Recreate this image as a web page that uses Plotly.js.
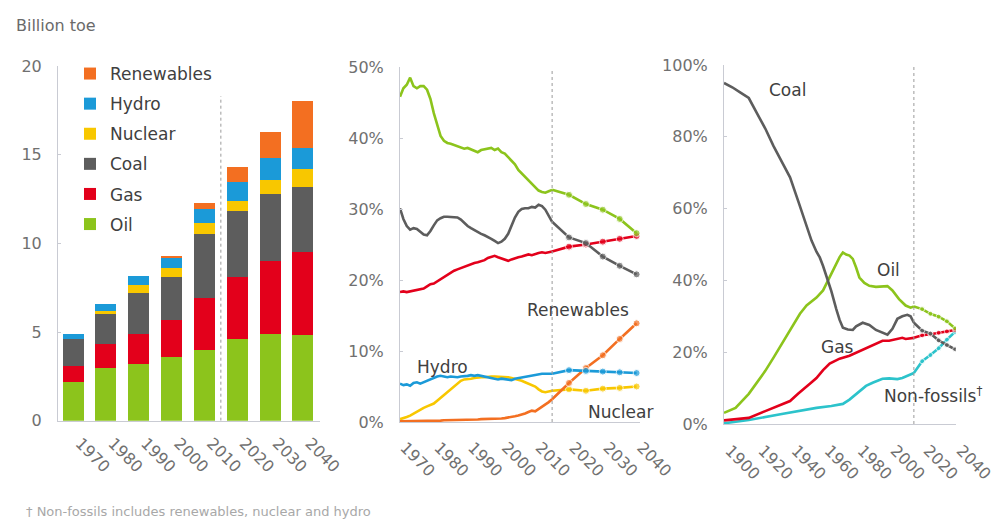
<!DOCTYPE html>
<html>
<head>
<meta charset="utf-8">
<script src="https://cdn.plot.ly/plotly-3.0.1.min.js"></script>
<style>
  html, body { margin: 0; padding: 0; background: #fff; }
  #chart { width: 1001px; height: 524px; }
</style>
</head>
<body>
<div id="chart"></div>
<script>
// ---------- Panel 1: primary energy by fuel (billion toe) ----------
const barYears = [1970, 1980, 1990, 2000, 2010, 2020, 2030, 2040];
const barOil = [2.2, 3.0, 3.2, 3.6, 4.0, 4.6, 4.9, 4.85];
const barGas = [0.9, 1.3, 1.7, 2.1, 2.9, 3.5, 4.1, 4.65];
const barCoal = [1.5, 1.7, 2.3, 2.4, 3.6, 3.7, 3.8, 3.7];
const barNuclear = [0.02, 0.2, 0.45, 0.5, 0.65, 0.6, 0.75, 1.0];
const barHydro = [0.27, 0.4, 0.5, 0.6, 0.8, 1.05, 1.25, 1.2];
const barRenewables = [0.0, 0.0, 0.03, 0.06, 0.3, 0.85, 1.5, 2.6];
const barTickText = ["1970", "1980", "1990", "2000", "2010", "2020", "2030", "2040"];

// ---------- Panel 2: shares of primary energy, 1970-2040 (%) ----------
const histYears2 = [1970,1971,1972,1973,1974,1975,1976,1977,1978,1979,1980,1981,1982,1983,1984,1985,1986,1987,1988,1989,1990,1991,1992,1993,1994,1995,1996,1997,1998,1999,2000,2001,2002,2003,2004,2005,2006,2007,2008,2009,2010,2011,2012,2013,2014,2015];
const oilHist2 = [45.8,47.0,47.5,48.5,47.3,47.0,47.3,47.3,46.8,45.5,43.5,41.8,40.3,39.6,39.3,39.2,39.0,38.8,38.7,38.5,38.6,38.4,38.2,38.0,38.3,38.4,38.5,38.6,38.3,38.5,38.0,37.8,37.3,36.8,36.3,35.5,35.0,34.6,34.0,33.5,33.0,32.6,32.4,32.3,32.5,32.7];
const coalHist2 = [30.1,28.6,27.6,27.1,27.3,27.2,26.8,26.4,26.3,26.9,27.7,28.4,28.7,28.9,28.9,28.9,28.9,28.8,28.5,28.0,27.6,27.3,27.0,26.8,26.5,26.3,26.1,25.8,25.5,25.2,25.4,25.8,26.5,27.8,28.8,29.6,30.0,30.1,30.1,30.3,30.2,30.6,30.4,29.9,29.0,28.2];
const gasHist2 = [18.3,18.4,18.3,18.4,18.5,18.5,18.6,18.8,19.1,19.4,19.5,19.8,20.1,20.4,20.8,21.1,21.3,21.5,21.7,21.9,22.0,22.2,22.4,22.5,22.6,22.8,23.1,23.2,23.4,23.2,23.0,22.8,22.7,22.9,23.1,23.2,23.3,23.4,23.6,23.5,23.7,23.8,23.9,23.8,23.9,24.0];
const nuclearHist2 = [0.4,0.5,0.7,0.9,1.2,1.5,1.8,2.0,2.2,2.4,2.6,3.0,3.4,3.8,4.2,4.7,5.1,5.5,5.8,6.0,6.0,6.1,6.2,6.3,6.3,6.3,6.4,6.4,6.4,6.4,6.3,6.3,6.3,6.2,6.1,6.0,5.8,5.6,5.4,5.2,5.0,4.6,4.3,4.2,4.3,4.4];
const hydroHist2 = [5.4,5.2,5.3,5.1,5.5,5.6,5.4,5.6,5.9,6.0,6.2,6.4,6.5,6.4,6.3,6.4,6.3,6.3,6.4,6.4,6.5,6.6,6.5,6.6,6.5,6.4,6.3,6.2,6.1,6.0,6.1,6.0,5.9,5.9,6.1,6.2,6.3,6.4,6.5,6.6,6.6,6.7,6.8,6.8,6.8,6.8];
const renewHist2 = [0.1,0.1,0.1,0.1,0.1,0.15,0.15,0.15,0.2,0.2,0.2,0.2,0.2,0.25,0.25,0.25,0.25,0.3,0.3,0.3,0.3,0.3,0.35,0.35,0.4,0.4,0.4,0.45,0.45,0.5,0.5,0.55,0.6,0.7,0.8,0.9,1.0,1.2,1.4,1.6,1.5,1.8,2.1,2.5,2.8,3.2];

const projYears = [2015, 2020, 2025, 2030, 2035, 2040];
const oilProj = [32.7, 32.0, 30.7, 29.9, 28.6, 26.6];
const coalProj = [28.2, 26.0, 25.2, 23.3, 22.0, 20.8];
const gasProj = [24.0, 24.7, 25.0, 25.4, 25.8, 26.2];
const nuclearProj = [4.4, 4.6, 4.4, 4.7, 4.8, 5.0];
const hydroProj = [6.8, 7.3, 7.2, 7.1, 7.0, 6.9];
const renewProj = [3.2, 5.5, 7.6, 9.4, 11.7, 13.9];
const nonFossilProj = [14.2, 17.5, 19.2, 21.1, 23.5, 25.7];

// ---------- Panel 3: long-run shares, 1900-2040 (%) ----------
const coalYears3 = [1900,1905,1910,1915,1920,1925,1930,1935,1940,1945,1948,1950,1953,1956,1958,1960,1962,1965,1968,1970,1972,1975,1978,1980,1984,1988,1992,1996,1999,2002,2005,2008,2011,2013,2015];
const coalHist3 = [95,93.8,92.3,90.8,86.5,82.3,77.4,73.0,68.7,62.0,58.0,55.0,51.1,48.0,46.4,44.0,41.3,37.0,32.0,29.0,26.8,26.3,26.2,27.2,28.2,27.6,26.2,25.4,24.9,26.5,29.3,30.0,30.4,30.0,28.2];
const oilYears3 = [1900,1907,1915,1920,1925,1930,1935,1940,1946,1950,1954,1956,1960,1963,1965,1968,1970,1972,1974,1976,1978,1980,1982,1985,1988,1992,1996,1999,2002,2006,2010,2013,2015];
const oilHist3 = [3.1,4.5,8.4,11.5,14.8,18.5,22.3,26.0,30.7,33.0,34.4,35.2,37.2,40.0,42.0,45.0,46.5,47.8,47.2,46.9,46.0,43.6,40.8,39.3,38.5,38.2,38.2,38.4,37.2,34.8,33.0,32.4,32.7];
const gasYears3 = [1900,1915,1925,1930,1935,1940,1945,1950,1952,1956,1960,1964,1968,1970,1976,1980,1986,1990,1996,2000,2004,2008,2010,2015];
const gasHist3 = [1.0,1.7,3.6,4.5,5.3,6.4,8.5,10.6,11.2,12.8,15.0,16.8,17.6,18.2,19.0,19.8,21.2,22.0,23.2,23.2,23.6,24.0,23.7,24.0];
const nfYears3 = [1900,1915,1935,1956,1965,1972,1976,1980,1986,1990,1996,2000,2005,2008,2012,2015];
const nfHist3 = [0.2,1.1,2.8,4.5,5.0,5.6,6.8,8.4,10.6,11.5,12.6,12.7,12.5,12.8,13.6,14.2];

// ---------- Colours ----------
const C = {
  oil: "#8cc41c", gas: "#e3001b", coal: "#5d5d5d", nuclear: "#f8c700",
  hydro: "#1b9ad8", renew: "#f36f21", nonfossil: "#2cc3cb"
};
const FONT = "DejaVu Sans, Arial, sans-serif";
const W = 1001, H = 524;
const px = v => v / W;
const py = v => 1 - v / H;

const traces = [];
// bars: stacked bottom-up; legend ranks put Renewables on top
const barDefs = [
  ["Oil", barOil, C.oil, 6], ["Gas", barGas, C.gas, 5], ["Coal", barCoal, C.coal, 4],
  ["Nuclear", barNuclear, C.nuclear, 3], ["Hydro", barHydro, C.hydro, 2], ["Renewables", barRenewables, C.renew, 1]
];
barDefs.forEach(([name, vals, col, rank]) => {
  traces.push({
    type: "bar", x: barYears, y: vals, name: name, legendgroup: name, legendrank: rank,
    marker: { color: col, line: { width: 0 } }, width: 6.4,
    xaxis: "x", yaxis: "y", hoverinfo: "name+y"
  });
});

function addLine(xa, ya, hx, hy, projY, col, msize) {
  traces.push({
    type: "scatter", mode: "lines", x: hx, y: hy, xaxis: xa, yaxis: ya,
    line: { color: col, width: 2.6 }, showlegend: false, hoverinfo: "x+y"
  });
  traces.push({
    type: "scatter", mode: "lines+markers", x: projYears, y: projY, xaxis: xa, yaxis: ya,
    line: { color: col, width: 2.6 },
    marker: { color: col, size: [0, msize, msize, msize, msize, msize] },
    showlegend: false, hoverinfo: "x+y"
  });
}
// panel 2
addLine("x2", "y2", histYears2, nuclearHist2, nuclearProj, C.nuclear, 7);
addLine("x2", "y2", histYears2, renewHist2, renewProj, C.renew, 7);
addLine("x2", "y2", histYears2, hydroHist2, hydroProj, C.hydro, 7);
addLine("x2", "y2", histYears2, gasHist2, gasProj, C.gas, 7);
addLine("x2", "y2", histYears2, coalHist2, coalProj, C.coal, 7);
addLine("x2", "y2", histYears2, oilHist2, oilProj, C.oil, 7);
// panel 3
addLine("x3", "y3", nfYears3, nfHist3, nonFossilProj, C.nonfossil, 5);
addLine("x3", "y3", gasYears3, gasHist3, gasProj, C.gas, 5);
addLine("x3", "y3", oilYears3, oilHist3, oilProj, C.oil, 5);
addLine("x3", "y3", coalYears3, coalHist3, coalProj, C.coal, 5);

const tickFont = { family: FONT, size: 16, color: "#707070" };
const axisLine = "#c9cbd3";
const baseX = {
  showgrid: false, zeroline: false, showline: true, linecolor: axisLine, linewidth: 1,
  ticks: "", tickangle: 45, tickfont: tickFont, fixedrange: true,
  ticklabelstandoff: 6, ticklabelshift: 7
};
const baseY = {
  showgrid: false, zeroline: false, showline: true, linecolor: axisLine, linewidth: 1,
  ticks: "inside", ticklen: 3, tickcolor: axisLine, tickfont: tickFont,
  ticklabelstandoff: 12, fixedrange: true
};

const labelFont = { family: FONT, size: 17, color: "#404040" };
function lab(text, x, y, xa, ya) {
  return { text: text, x: x, y: y, xref: xa, yref: ya, showarrow: false, font: labelFont, xanchor: "center", yanchor: "middle" };
}

const layout = {
  width: W, height: H,
  margin: { l: 0, r: 0, t: 0, b: 0 },
  paper_bgcolor: "#ffffff", plot_bgcolor: "rgba(0,0,0,0)",
  font: { family: FONT, color: "#404040" },
  barmode: "stack", bargap: 0,
  showlegend: true,
  legend: {
    x: px(70), y: py(56), xanchor: "left", yanchor: "top",
    traceorder: "grouped", tracegroupgap: 5,
    font: { family: FONT, size: 17, color: "#404040" },
    bgcolor: "rgba(0,0,0,0)", itemwidth: 30
  },
  xaxis: Object.assign({}, baseX, {
    domain: [px(58), px(320)], range: [1965.4, 2045.2],
    tickmode: "array", tickvals: barYears, ticktext: barTickText, anchor: "y"
  }),
  yaxis: Object.assign({}, baseY, {
    domain: [py(420.7), py(66)], range: [0, 20], dtick: 5, anchor: "x"
  }),
  xaxis2: Object.assign({}, baseX, {
    domain: [px(400), px(640)], range: [1970, 2041], tickmode: "linear", tick0: 1970, dtick: 10, anchor: "y2",
    ticklabelstandoff: 9, ticklabelshift: 5
  }),
  yaxis2: Object.assign({}, baseY, {
    domain: [py(422), py(67)], range: [0, 50], dtick: 10, ticksuffix: "%", anchor: "x2"
  }),
  xaxis3: Object.assign({}, baseX, {
    domain: [px(724), px(956)], range: [1900, 2040.5], tickmode: "linear", tick0: 1900, dtick: 20, anchor: "y3",
    ticklabelstandoff: 10, ticklabelshift: 6
  }),
  yaxis3: Object.assign({}, baseY, {
    domain: [py(424), py(65)], range: [0, 100], dtick: 20, ticksuffix: "%", anchor: "x3"
  }),
  shapes: [
    { type: "line", xref: "x", yref: "y", x0: 2015, x1: 2015, y0: 0, y1: 18.3, line: { color: "#9a9a9a", width: 1, dash: "dot" } },
    { type: "line", xref: "x2", yref: "y2", x0: 2015, x1: 2015, y0: 0, y1: 49.5, line: { color: "#9a9a9a", width: 1, dash: "dot" } },
    { type: "line", xref: "x3", yref: "y3", x0: 2015, x1: 2015, y0: 0, y1: 100, line: { color: "#9a9a9a", width: 1, dash: "dot" } }
  ],
  annotations: [
    { text: "Billion toe", xref: "paper", yref: "paper", x: px(14), y: py(25), xanchor: "left", yanchor: "middle", showarrow: false, font: { family: FONT, size: 16, color: "#6a6a6a" } },
    lab("Hydro", 1982.5, 7.8, "x2", "y2"),
    lab("Renewables", 2022.8, 15.8, "x2", "y2"),
    lab("Nuclear", 2035.3, 1.4, "x2", "y2"),
    lab("Coal", 1938.2, 93, "x3", "y3"),
    lab("Oil", 1999.4, 43, "x3", "y3"),
    lab("Gas", 1968.5, 21.5, "x3", "y3"),
    lab("Non-fossils<sup>†</sup>", 2026.7, 8.1, "x3", "y3"),
    { text: "† Non-fossils includes renewables, nuclear and hydro", xref: "paper", yref: "paper", x: px(24), y: py(511), xanchor: "left", yanchor: "middle", showarrow: false, font: { family: FONT, size: 13, color: "#a8a8a8" } }
  ]
};

Plotly.newPlot("chart", traces, layout, { staticPlot: true, displayModeBar: false });
</script>
</body>
</html>
